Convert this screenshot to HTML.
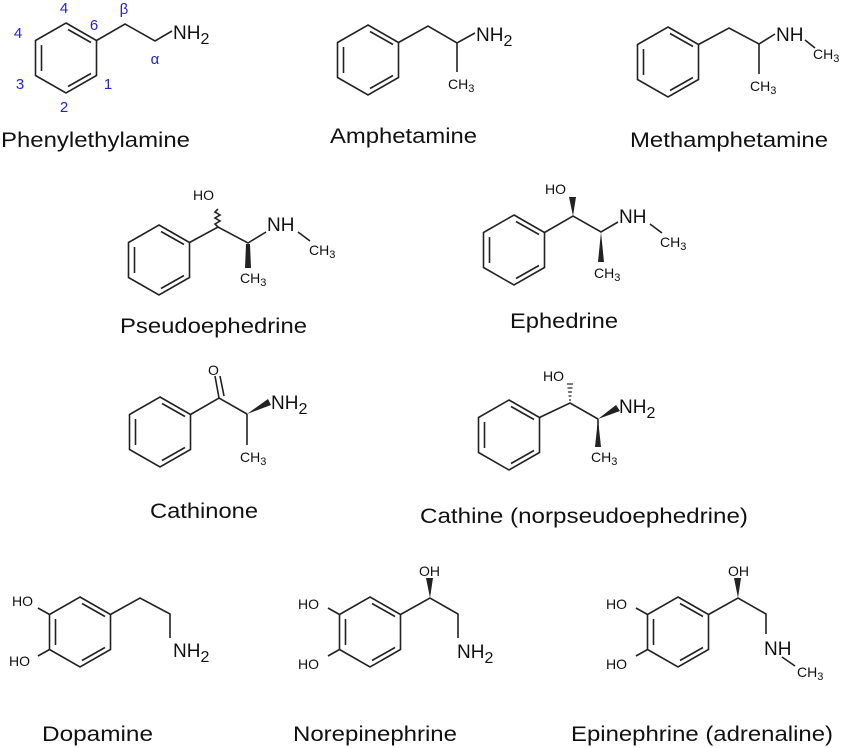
<!DOCTYPE html>
<html><head><meta charset="utf-8"><style>
html,body{margin:0;padding:0;background:#fff;}
svg{display:block;}
text{font-family:"Liberation Sans",sans-serif;fill:#111;}
.lab{font-size:21px;}
.at{font-size:19px;}
.sm{font-size:14px;}
.b{fill:#2222dd;font-size:15px;text-anchor:middle;}
</style></head><body>
<svg width="850" height="748" viewBox="0 0 850 748" xmlns="http://www.w3.org/2000/svg">
<defs>
<g id="ring" fill="none" stroke="#222" stroke-width="1.6">
<polygon points="0,-35 30.5,-17.5 30.5,17.5 0,35 -30.5,17.5 -30.5,-17.5"/>
<line x1="-24.5" y1="-13" x2="-24.5" y2="13"/>
<line x1="2" y1="-28.5" x2="25" y2="-15.5"/>
<line x1="2" y1="28.5" x2="25" y2="15.5"/>
</g>
</defs>
<g stroke="#222" stroke-width="1.6" fill="none">
<use href="#ring" x="66" y="58"/>
<polyline points="96.5,40.5 125,24 155,41 172,31"/>
<use href="#ring" x="368" y="60"/>
<polyline points="398.5,42.5 428,26 457,43 475,33"/>
<line x1="457" y1="43" x2="457" y2="72"/>
<use href="#ring" x="668" y="62"/>
<polyline points="698.5,44.5 729,28 759,44 775,34"/>
<line x1="759" y1="44" x2="759" y2="74"/>
<line x1="805" y1="40" x2="815" y2="48"/>
<use href="#ring" x="159" y="260"/>
<polyline points="189.5,242.5 218,227 248,243 266,232"/>
<path d="M218,227 l-3,-3 l5,-3 l-5,-3 l5,-3 l-5,-3 l3,-3"/>
<line x1="298" y1="232" x2="310" y2="241"/>
<use href="#ring" x="514" y="250"/>
<polyline points="544.5,232.5 573,216 601,232 618,222"/>
<line x1="650" y1="224" x2="662" y2="233"/>
</g>
<g fill="#222">
<polygon points="246,244 250,244 251,268 245,268"/>
<polygon points="573,216 569,197 576,197"/>
<polygon points="601,232 598,262 604,262"/>
</g>
<g stroke="#222" stroke-width="1.6" fill="none">
<use href="#ring" x="160" y="432"/>
<polyline points="190.5,414.5 219,398 247,414"/>
<line x1="219" y1="398" x2="215" y2="376"/>
<line x1="224" y1="396" x2="220" y2="376"/>
<line x1="247" y1="414" x2="247" y2="445"/>
<use href="#ring" x="509" y="435"/>
<polyline points="539.5,417.5 570,403 598,419"/>
<line x1="598" y1="419" x2="598" y2="447"/>
</g>
<g fill="#222">
<polygon points="247,414 268,399 271,405"/>
<polygon points="598,419 616,405 620,411"/>
<polygon points="598,419 595,447 601,447"/>
</g>
<g stroke="#222" stroke-width="1.2">
<line x1="567" y1="384" x2="573" y2="384"/><line x1="567.5" y1="388" x2="572.5" y2="388"/>
<line x1="568" y1="392" x2="572" y2="392"/><line x1="568.5" y1="396" x2="571.5" y2="396"/>
<line x1="569" y1="400" x2="571" y2="400"/>
</g>
<g stroke="#222" stroke-width="1.6" fill="none">
<use href="#ring" x="80" y="632"/>
<line x1="49.5" y1="614.5" x2="38" y2="608"/>
<line x1="49.5" y1="649.5" x2="38" y2="656"/>
<polyline points="110.5,614.5 140,598 170,614 170,638"/>
<use href="#ring" x="370" y="632"/>
<line x1="339.5" y1="614.5" x2="328" y2="608"/>
<line x1="339.5" y1="649.5" x2="328" y2="656"/>
<polyline points="400.5,614.5 430,598 458,614 458,638"/>
<use href="#ring" x="678" y="632"/>
<line x1="647.5" y1="614.5" x2="636" y2="608"/>
<line x1="647.5" y1="649.5" x2="636" y2="656"/>
<polyline points="708.5,614.5 738,598 766,614 766,634"/>
<line x1="782" y1="657" x2="795" y2="666"/>
</g>
<g fill="#222">
<polygon points="430,598 426,578 433,578"/>
<polygon points="738,598 734,578 741,578"/>
</g>
<text class="at" x="173" y="39">NH<tspan font-size="16" dy="5">2</tspan></text>
<text class="at" x="476" y="41">NH<tspan font-size="16" dy="5">2</tspan></text>
<text class="sm" x="448" y="89">CH<tspan font-size="11" dy="3">3</tspan></text>
<text class="at" x="776" y="41">NH</text>
<text class="sm" x="813" y="59">CH<tspan font-size="11" dy="3">3</tspan></text>
<text class="sm" x="750" y="91">CH<tspan font-size="11" dy="3">3</tspan></text>

<text class="sm" x="193" y="200">HO</text>
<text class="at" x="267" y="231">NH</text>
<text class="sm" x="309" y="255">CH<tspan font-size="11" dy="3">3</tspan></text>
<text class="sm" x="240" y="283">CH<tspan font-size="11" dy="3">3</tspan></text>

<text class="sm" x="545" y="194">HO</text>
<text class="at" x="619" y="223">NH</text>
<text class="sm" x="660" y="247">CH<tspan font-size="11" dy="3">3</tspan></text>
<text class="sm" x="594" y="278">CH<tspan font-size="11" dy="3">3</tspan></text>

<text class="sm" x="208" y="375">O</text>
<text class="at" x="271" y="409">NH<tspan font-size="16" dy="5">2</tspan></text>
<text class="sm" x="240" y="462">CH<tspan font-size="11" dy="3">3</tspan></text>

<text class="sm" x="543" y="381">HO</text>
<text class="at" x="619" y="413">NH<tspan font-size="16" dy="5">2</tspan></text>
<text class="sm" x="591" y="462">CH<tspan font-size="11" dy="3">3</tspan></text>

<text class="sm" x="12" y="606">HO</text>
<text class="sm" x="9" y="666">HO</text>
<text class="at" x="173" y="657">NH<tspan font-size="16" dy="5">2</tspan></text>

<text class="sm" x="298" y="609">HO</text>
<text class="sm" x="298" y="669">HO</text>
<text class="sm" x="419" y="576">OH</text>
<text class="at" x="457" y="658">NH<tspan font-size="16" dy="5">2</tspan></text>

<text class="sm" x="606" y="609">HO</text>
<text class="sm" x="606" y="669">HO</text>
<text class="sm" x="728" y="576">OH</text>
<text class="at" x="764" y="655">NH</text>
<text class="sm" x="797" y="677">CH<tspan font-size="11" dy="3">3</tspan></text>

<text class="b" x="64" y="13">4</text>
<text class="b" x="18" y="38">4</text>
<text class="b" x="94" y="30">6</text>
<text class="b" x="124" y="14">β</text>
<text class="b" x="155" y="64">α</text>
<text class="b" x="108" y="89">1</text>
<text class="b" x="20" y="89">3</text>
<text class="b" x="64" y="112">2</text>

<text class="lab" x="1" y="147" textLength="189" lengthAdjust="spacingAndGlyphs">Phenylethylamine</text>
<text class="lab" x="330" y="143" textLength="147" lengthAdjust="spacingAndGlyphs">Amphetamine</text>
<text class="lab" x="630" y="147" textLength="198" lengthAdjust="spacingAndGlyphs">Methamphetamine</text>
<text class="lab" x="120" y="333" textLength="187" lengthAdjust="spacingAndGlyphs">Pseudoephedrine</text>
<text class="lab" x="510" y="328" textLength="108" lengthAdjust="spacingAndGlyphs">Ephedrine</text>
<text class="lab" x="150" y="518" textLength="108" lengthAdjust="spacingAndGlyphs">Cathinone</text>
<text class="lab" x="420" y="523" textLength="328" lengthAdjust="spacingAndGlyphs">Cathine (norpseudoephedrine)</text>
<text class="lab" x="42" y="741" textLength="111" lengthAdjust="spacingAndGlyphs">Dopamine</text>
<text class="lab" x="293" y="741" textLength="164" lengthAdjust="spacingAndGlyphs">Norepinephrine</text>
<text class="lab" x="571" y="741" textLength="262" lengthAdjust="spacingAndGlyphs">Epinephrine (adrenaline)</text>
</svg>
</body></html>
